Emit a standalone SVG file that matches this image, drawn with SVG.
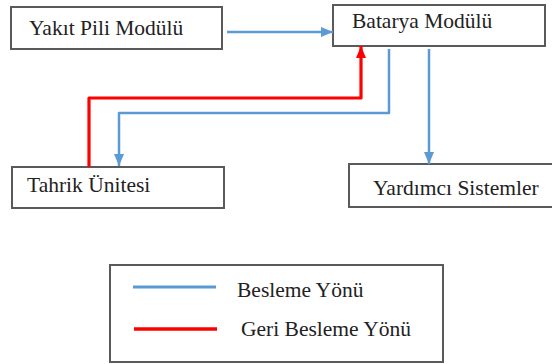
<svg xmlns="http://www.w3.org/2000/svg" width="552" height="364" viewBox="0 0 552 364">
<defs>
<style>
.box{fill:#fff;stroke:#5a5a5a;stroke-width:2}
.t{font-family:"Liberation Serif","Times New Roman",serif;font-size:21.5px;fill:#222}
.blue{fill:none;stroke:#5b9bd5;stroke-width:2.5;stroke-linejoin:round}
.red{fill:none;stroke:#ff0000;stroke-width:3.2;stroke-linejoin:round}
</style>
<marker id="ab" viewBox="0 0 12 10" refX="12" refY="5" markerWidth="12" markerHeight="10" markerUnits="userSpaceOnUse" orient="auto"><path d="M0,0 L12,5 L0,10 Z" fill="#5b9bd5"/></marker>
<marker id="ar" viewBox="0 0 12 10" refX="12" refY="5" markerWidth="12" markerHeight="10" markerUnits="userSpaceOnUse" orient="auto"><path d="M0,0 L12,5 L0,10 Z" fill="#ff0000"/></marker>
</defs>
<rect width="552" height="364" fill="#fff"/>
<g id="yakit"><rect class="box" x="11" y="7" width="211" height="42"/><text class="t" x="29" y="35">Yakıt Pili Modülü</text></g>
<g id="batarya"><rect class="box" x="333" y="5" width="212" height="41"/><text class="t" x="352" y="28">Batarya Modülü</text></g>
<g id="tahrik"><rect class="box" x="12" y="167" width="212" height="41"/><text class="t" x="27" y="192">Tahrik Ünitesi</text></g>
<g id="yardimci"><rect class="box" x="349" y="164" width="206" height="43"/><text class="t" x="373" y="195">Yardımcı Sistemler</text></g>
<g id="connectors">
<path class="blue" d="M227,32 H333" marker-end="url(#ab)"/>
<path class="red" d="M89,167 V98 H361 V46" marker-end="url(#ar)"/>
<path class="blue" d="M389,49 V113 H119 V166" marker-end="url(#ab)"/>
<path class="blue" d="M429,49 V164" marker-end="url(#ab)"/>
</g>
<g id="legend">
<rect class="box" x="110" y="265" width="333" height="97"/>
<line x1="133" y1="287" x2="216" y2="287" stroke="#5b9bd5" stroke-width="3"/>
<line x1="134" y1="329" x2="217" y2="329" stroke="#ff0000" stroke-width="3.5"/>
<text class="t" x="237" y="297">Besleme Yönü</text>
<text class="t" x="241" y="336">Geri Besleme Yönü</text>
</g>
</svg>
